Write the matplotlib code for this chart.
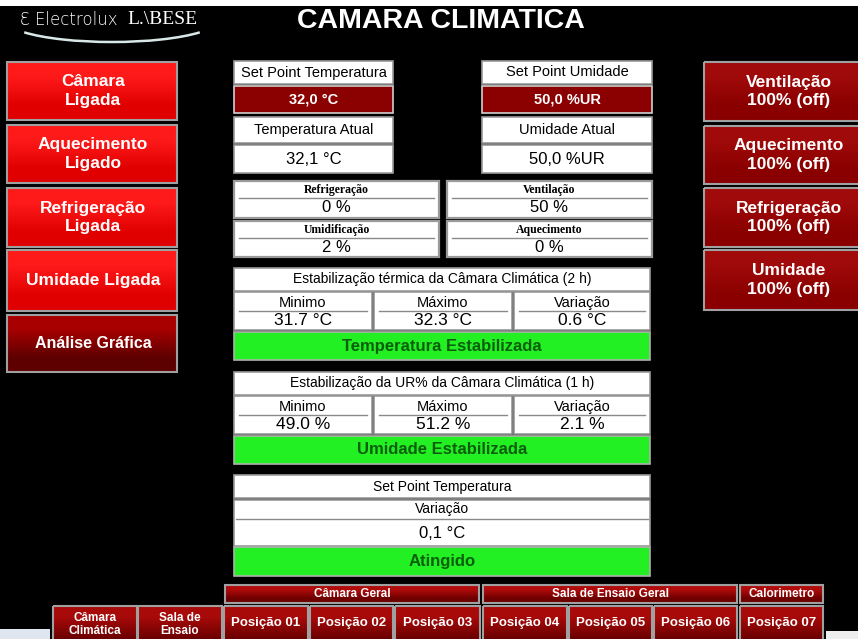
import numpy as np
import matplotlib.pyplot as plt
from matplotlib.patches import Rectangle, Arc

# Tela de supervisao da camara climatica (reproducao)

titulo = "CAMARA CLIMATICA"
logo_marca = "Ɛ Electrolux"
logo_lab = "L.\\BESE"

botoes_esq = ["Câmara\nLigada", "Aquecimento\nLigado", "Refrigeração\nLigada",
              "Umidade Ligada", "Análise Gráfica"]
botoes_dir = ["Ventilação\n100% (off)", "Aquecimento\n100% (off)",
              "Refrigeração\n100% (off)", "Umidade\n100% (off)"]

sp_titulos = ["Set Point Temperatura", "Set Point Umidade"]
sp_valores = ["32,0 °C", "50,0 %UR"]
atual_titulos = ["Temperatura Atual", "Umidade Atual"]
atual_valores = ["32,1 °C", "50,0 %UR"]

saidas_nomes = ["Refrigeração", "Ventilação", "Umidificação", "Aquecimento"]
saidas_valores = ["0 %", "50 %", "2 %", "0 %"]

estab_titulos = ["Estabilização térmica da Câmara Climática (2 h)",
                 "Estabilização da UR% da Câmara Climática (1 h)"]
estab_colunas = ["Minimo", "Máximo", "Variação"]
estab_temp = ["31.7 °C", "32.3 °C", "0.6 °C"]
estab_umid = ["49.0 %", "51.2 %", "2.1 %"]
estab_status = ["Temperatura Estabilizada", "Umidade Estabilizada"]

sp3_titulo = "Set Point Temperatura"
sp3_rotulo = "Variação"
sp3_valor = "0,1 °C"
sp3_status = "Atingido"

grupos = ["Câmara Geral", "Sala de Ensaio Geral", "Calorimetro"]
abas = ["Câmara\nClimática", "Sala de\nEnsaio", "Posição 01", "Posição 02",
        "Posição 03", "Posição 04", "Posição 05", "Posição 06", "Posição 07"]

W, H = 858, 639
FONTE = "Liberation Sans"
VERDE = "#22f022"
VERDE_TXT = "#0b5e0b"

fig = plt.figure(figsize=(W / 100, H / 100), dpi=100, facecolor="black")
ax = fig.add_axes([0, 0, 1, 1])
ax.set_xlim(0, W)
ax.set_ylim(H, 0)
ax.axis("off")
ax.set_facecolor("black")


def caixa(x0, y0, x1, y1, face="white", borda="#9a9a9a", lw=1.2, z=2):
    ax.add_patch(Rectangle((x0, y0), x1 - x0, y1 - y0, facecolor=face,
                           edgecolor=borda, linewidth=lw, zorder=z))


def degrade(x0, y0, x1, y1, c_topo, c_base, borda="#a0a0a0"):
    cores = np.array([plt.matplotlib.colors.to_rgb(c_topo),
                      plt.matplotlib.colors.to_rgb(c_base)])[:, None, :]
    ax.imshow(cores, extent=(x0, x1, y1, y0), aspect="auto",
              interpolation="bilinear", zorder=2)
    ax.add_patch(Rectangle((x0, y0), x1 - x0, y1 - y0, facecolor="none",
                           edgecolor=borda, linewidth=1.5, zorder=3))


def texto(x, y, s, size=10, cor="black", peso="normal", familia=FONTE, ls=1.2):
    ax.text(x, y, s, ha="center", va="center", fontsize=size, color=cor,
            fontweight=peso, family=familia, linespacing=ls, zorder=5)


# faixa branca no topo e logo
ax.add_patch(Rectangle((0, 0), W, 6, facecolor="white", edgecolor="none", zorder=1))
ax.text(20, 20, logo_marca, ha="left", va="center", fontsize=12, color="white",
        family="DejaVu Sans", fontweight="light", zorder=5)
ax.text(127, 20, logo_lab, ha="left", va="center", fontsize=14, color="white",
        family="Liberation Serif", zorder=5)
ax.add_patch(Arc((112, 20), 212, 44, theta1=8, theta2=172, color="#d8e8e8",
                 linewidth=1.8, zorder=4))
texto(441, 21, titulo, size=20.5, cor="white", peso="bold")

# botoes da esquerda
y_esq = [(62, 120), (125, 183), (188, 247), (250, 311), (315, 372)]
for i, (rot, (a, b)) in enumerate(zip(botoes_esq, y_esq)):
    if i < 4:
        degrade(7, a, 177, b, "#ff1a1a", "#e00000")
    else:
        degrade(7, a, 177, b, "#a80000", "#5e0000")
    texto(93, (a + b) / 2, rot, size=12.5 if i < 4 else 11.5, cor="white",
          peso="bold", ls=1.3)

# botoes da direita
y_dir = [(62, 121), (126, 184), (188, 247), (250, 310)]
for rot, (a, b) in zip(botoes_dir, y_dir):
    degrade(704, a, 874, b, "#a00a0a", "#8a0000")
    texto(789, (a + b) / 2, rot, size=12.5, cor="white", peso="bold", ls=1.3)

# set points e valores atuais
for j, (x0, x1) in enumerate([(234, 393), (482, 652)]):
    xc = (x0 + x1) / 2
    caixa(x0, 61, x1, 84)
    texto(xc, 72.5, sp_titulos[j], size=10.5)
    caixa(x0, 86, x1, 113, face="#8b0000", borda="#d0d0d0")
    texto(xc, 99.5, sp_valores[j], size=10.5, cor="white", peso="bold")
    caixa(x0, 117, x1, 143)
    texto(xc, 130, atual_titulos[j], size=10.5)
    caixa(x0, 145, x1, 173)
    texto(xc, 159, atual_valores[j], size=12)

# saidas de controle
pos_saidas = [(234, 439, 181, 218), (447, 652, 181, 218),
              (234, 439, 221, 257), (447, 652, 221, 257)]
for nome, val, (x0, x1, a, b) in zip(saidas_nomes, saidas_valores, pos_saidas):
    xc = (x0 + x1) / 2
    caixa(x0, a, x1, b, lw=1.6)
    ax.plot([x0 + 5, x1 - 5], [a + 17, a + 17], color="#8a8a8a", lw=1, zorder=4)
    texto(xc, a + 9, nome, size=8.5, peso="bold", familia="Liberation Serif")
    texto(xc, a + 27, val, size=12)

# paineis de estabilizacao
cols = [(234, 372), (374, 512), (514, 650)]
for k, (topo, vals) in enumerate([(268, estab_temp), (372, estab_umid)]):
    caixa(234, topo, 650, topo + 23)
    texto(442, topo + 11.5, estab_titulos[k], size=10)
    for (x0, x1), col, v in zip(cols, estab_colunas, vals):
        caixa(x0, topo + 24, x1, topo + 62)
        ax.plot([x0 + 5, x1 - 5], [topo + 43, topo + 43], color="#8a8a8a",
                lw=1, zorder=4)
        texto((x0 + x1) / 2, topo + 35, col, size=10.5)
        texto((x0 + x1) / 2, topo + 52.5, v, size=12.5)
    caixa(234, topo + 64, 650, topo + 92, face=VERDE, borda="#b0b0b0")
    texto(442, topo + 78, estab_status[k], size=12, cor=VERDE_TXT, peso="bold")

# set point de variacao
caixa(234, 475, 650, 498)
texto(442, 486.5, sp3_titulo, size=10)
caixa(234, 500, 650, 546)
ax.plot([236, 648], [519, 519], color="#8a8a8a", lw=1, zorder=4)
texto(442, 509.5, sp3_rotulo, size=10)
texto(442, 533, sp3_valor, size=12)
caixa(234, 547, 650, 576, face=VERDE, borda="#b0b0b0")
texto(442, 561.5, sp3_status, size=12, cor=VERDE_TXT, peso="bold")

# abas inferiores
x_grupos = [(225, 479), (483, 737), (740, 823)]
for g, (x0, x1) in zip(grupos, x_grupos):
    degrade(x0, 585, x1, 603, "#b00c0c", "#6e0000")
    texto((x0 + x1) / 2, 594, g, size=8.5, cor="white", peso="bold")

x_abas = [(53, 137), (138, 222), (224, 308), (310, 393), (395, 480),
          (483, 567), (569, 652), (654, 737), (740, 823)]
for rot, (x0, x1) in zip(abas, x_abas):
    degrade(x0, 606, x1, 650, "#a80a0a", "#6a0000")
    yc = 624.5 if "\n" in rot else 623
    texto((x0 + x1) / 2, yc, rot, size=8.5 if "\n" in rot else 9.5,
          cor="white", peso="bold", ls=1.15)

# restos da barra de tarefas
ax.add_patch(Rectangle((0, 629), 50, 10, facecolor="#dfe6f0", edgecolor="none", zorder=6))
ax.add_patch(Rectangle((826, 631), 32, 8, facecolor="#eeeeee", edgecolor="none", zorder=6))

fig.savefig("out.png", dpi=100, facecolor="black")
